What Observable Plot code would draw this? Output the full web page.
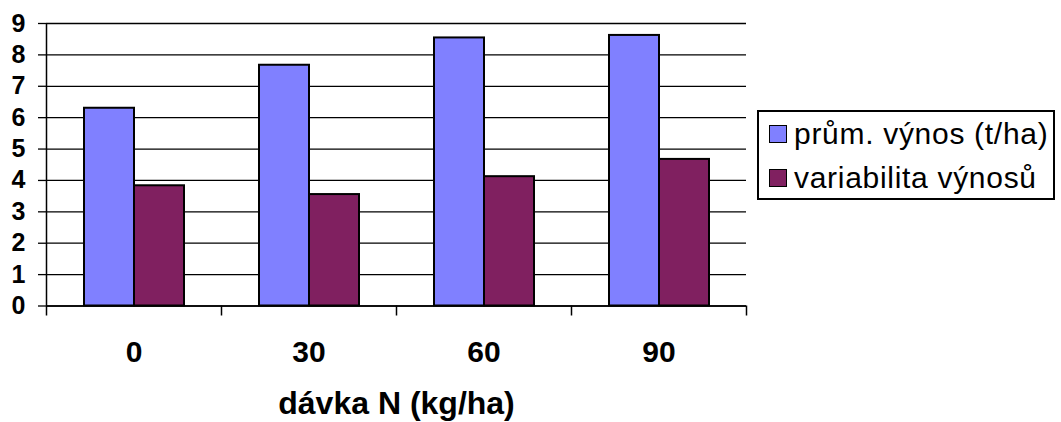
<!DOCTYPE html>
<html>
<head>
<meta charset="utf-8">
<script src="https://cdn.jsdelivr.net/npm/d3@7"></script>
<script src="https://cdn.jsdelivr.net/npm/@observablehq/plot@0.6"></script>
<style>
  html, body { margin: 0; padding: 0; background: #fff; }
  #chart { position: relative; width: 1061px; height: 422px; font-family: "Liberation Sans", Arial, sans-serif; }
  #legend {
    position: absolute; left: 757px; top: 110px; width: 294px; height: 86px;
    border: 2px solid #000; background: #fff; box-sizing: content-box;
  }
  #legend .item { display: flex; align-items: center; font-size: 30px; line-height: 44px; height: 44px; letter-spacing: 0.7px; color: #000; white-space: nowrap; }
  #legend .sw { width: 16px; height: 16px; border: 1.5px solid #000; margin: 0 7px 0 10px; flex: none; }
</style>
</head>
<body>
<div id="chart"></div>
<script>
// Nitrogen dose (kg/ha) and the two measured series
const doses = ["0", "30", "60", "90"];
const seriesNames = ["prům. výnos (t/ha)", "variabilita výnosů"];
const seriesColors = ["#8080FF", "#802060"];
const meanYield = [6.30, 7.67, 8.54, 8.62];
const yieldVariability = [3.83, 3.55, 4.12, 4.67];
const yTicks = [0, 1, 2, 3, 4, 5, 6, 7, 8, 9];
const xTitle = "dávka N (kg/ha)";

const W = 1061, H = 422;
const mL = 46, mR = 315, mT = 23, mB = 116.5;
const step = (W - mL - mR) / doses.length;

const rows = doses.map((d, i) => ({dose: d, mean: meanYield[i], variability: yieldVariability[i]}));

const plot = Plot.plot({
  width: W,
  height: H,
  marginLeft: mL,
  marginRight: mR,
  marginTop: mT,
  marginBottom: mB,
  style: {fontFamily: "'Liberation Sans', Arial, sans-serif", color: "#000", background: "transparent"},
  x: {domain: doses, padding: 0},
  y: {domain: [0, 9]},
  marks: [
    // horizontal gridlines
    Plot.ruleY(yTicks, {stroke: "#000", strokeWidth: 1.3}),
    // bars: mean yield on the left of each group, variability on the right
    Plot.barY(rows, {x: "dose", y: "mean", fill: seriesColors[0], stroke: "#000", strokeWidth: 2, insetLeft: 38, insetRight: 87}),
    Plot.barY(rows, {x: "dose", y: "variability", fill: seriesColors[1], stroke: "#000", strokeWidth: 2, insetLeft: 88, insetRight: 37}),
    // y axis line
    Plot.ruleX([doses[0]], {x: d => d, y1: 0, y2: 9, dx: -step / 2, stroke: "#000", strokeWidth: 1.5}),
    // x axis line
    Plot.ruleY([0], {stroke: "#000", strokeWidth: 1.5}),
    // category boundary ticks below the axis
    Plot.ruleX(doses, {x: d => d, y1: 0, y2: 0, dx: -step / 2, insetBottom: -10, stroke: "#000", strokeWidth: 1.5}),
    Plot.ruleX([doses[doses.length - 1]], {x: d => d, y1: 0, y2: 0, dx: step / 2, insetBottom: -10, stroke: "#000", strokeWidth: 1.5}),
    Plot.axisY({ticks: yTicks, tickSize: 8, tickPadding: 13, fontSize: 25, fontWeight: "bold", label: null, strokeWidth: 1.3}),
    Plot.axisX({tickSize: 0, tickPadding: 35, fontSize: 30, fontWeight: "bold", label: null}),
    Plot.text([xTitle], {text: d => d, frameAnchor: "bottom", dy: 98, fontSize: 32, fontWeight: "bold", fill: "#000", lineAnchor: "middle"})
  ]
});

const chart = document.getElementById("chart");
chart.appendChild(plot);

const legend = document.createElement("div");
legend.id = "legend";
seriesNames.forEach((name, i) => {
  const item = document.createElement("div");
  item.className = "item";
  const sw = document.createElement("span");
  sw.className = "sw";
  sw.style.background = seriesColors[i];
  const label = document.createElement("span");
  label.textContent = name;
  item.appendChild(sw);
  item.appendChild(label);
  legend.appendChild(item);
});
chart.appendChild(legend);
</script>
</body>
</html>
